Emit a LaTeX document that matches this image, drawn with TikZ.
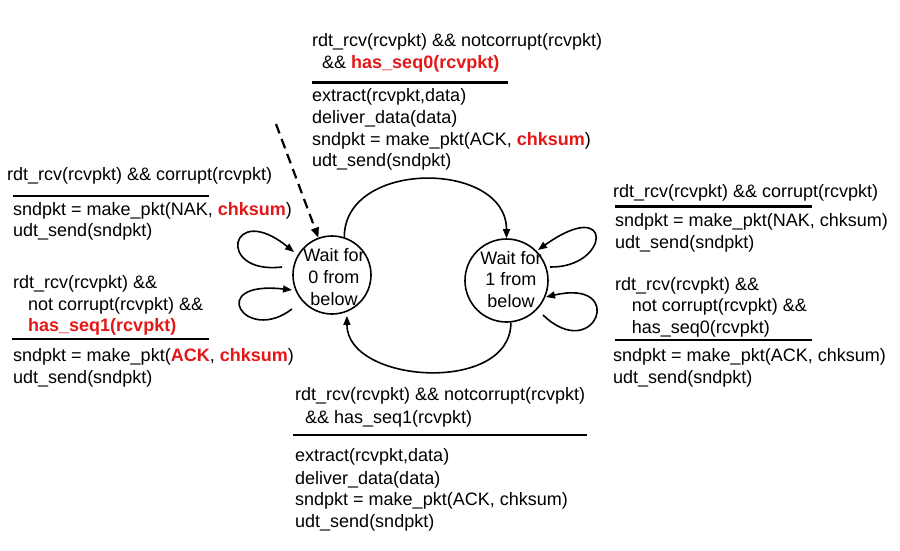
\documentclass[tikz,border=0pt]{standalone}
\usepackage{fontspec}
\setmainfont{Liberation Sans}
\usetikzlibrary{arrows.meta}
\definecolor{hl}{RGB}{228,24,24}
\newcommand\hlt[1]{\textcolor{hl}{\textbf{#1}}}
\begin{document}
\begin{tikzpicture}[x=1pt,y=-1pt,
  txt/.style={anchor=base west,inner sep=0pt,font=\fontsize{18}{21.7}\selectfont},
  rulel/.style={line width=2.6pt},
  stnode/.style={circle,draw,line width=1.6pt,inner sep=0pt},
  stxt/.style={align=center,inner sep=0pt,font=\fontsize{18}{21.7}\selectfont},
  conn/.style={line width=1.6pt,-{Triangle[length=9pt,width=7pt]}},
  dconn/.style={line width=2.2pt,dash pattern=on 10pt off 6pt,-{Triangle[length=10pt,width=8pt]}}
]
\useasboundingbox[fill=white] (0,0) rectangle (900,551);

% states
\node[stnode,minimum size=78pt] (s0) at (332,275) {};
\node[stnode,minimum size=83pt] (s1) at (506.5,280.5) {};
\node[stxt] (s0t) at (334,277) {Wait for\\0 from\\below};
\node[stxt] (s1t) at (511,279.5) {Wait for\\1 from\\below};

% top block
\node[txt] (tA1) at (312,47) {rdt\_rcv(rcvpkt) \&\& notcorrupt(rcvpkt)};
\node[txt] (tA2) at (322,69) {\&\& \hlt{has\_seq0(rcvpkt)}};
\draw[rulel] (312,82.7) -- (508,82.7);
\node[txt] (tA3) at (312,101.5) {extract(rcvpkt,data)};
\node[txt] (tA4) at (312,123) {deliver\_data(data)};
\node[txt] (tA5) at (312,145) {sndpkt = make\_pkt(ACK, \hlt{chksum})};
\node[txt] (tA6) at (312,166.5) {udt\_send(sndpkt)};

% left blocks
\node[txt] (L1) at (7,180.5) {rdt\_rcv(rcvpkt) \&\& corrupt(rcvpkt)};
\draw[rulel] (12.7,196) -- (209,196);
\node[txt] (L2) at (13,215) {sndpkt = make\_pkt(NAK, \hlt{chksum})};
\node[txt] (L3) at (13,236.5) {udt\_send(sndpkt)};
\node[txt] (L4) at (13,288.3) {rdt\_rcv(rcvpkt) \&\&};
\node[txt] (L5) at (28,310) {not corrupt(rcvpkt) \&\&};
\node[txt] (L6) at (28,331.7) {\hlt{has\_seq1(rcvpkt)}};
\draw[rulel] (12,339) -- (209,339);
\node[txt] (L7) at (13,361.5) {sndpkt = make\_pkt(\hlt{ACK}, \hlt{chksum})};
\node[txt] (L8) at (13,383) {udt\_send(sndpkt)};

% right blocks
\node[txt] (R1) at (613,197.7) {rdt\_rcv(rcvpkt) \&\& corrupt(rcvpkt)};
\draw[rulel] (615,206.7) -- (812,206.7);
\node[txt] (R2) at (615,226.7) {sndpkt = make\_pkt(NAK, chksum)};
\node[txt] (R3) at (615,248.3) {udt\_send(sndpkt)};
\node[txt] (R4) at (615,290) {rdt\_rcv(rcvpkt) \&\&};
\node[txt] (R5) at (631.7,311.7) {not corrupt(rcvpkt) \&\&};
\node[txt] (R6) at (631.7,333.3) {has\_seq0(rcvpkt)};
\draw[rulel] (615,340) -- (812,340);
\node[txt] (R7) at (613,361.7) {sndpkt = make\_pkt(ACK, chksum)};
\node[txt] (R8) at (613,383.3) {udt\_send(sndpkt)};

% bottom block
\node[txt] (B1) at (295,400) {rdt\_rcv(rcvpkt) \&\& notcorrupt(rcvpkt)};
\node[txt] (B2) at (305,423) {\&\& has\_seq1(rcvpkt)};
\draw[rulel] (293,435) -- (587,435);
\node[txt] (B3) at (295,461.7) {extract(rcvpkt,data)};
\node[txt] (B4) at (295,484) {deliver\_data(data)};
\node[txt] (B5) at (295,505.7) {sndpkt = make\_pkt(ACK, chksum)};
\node[txt] (B6) at (295,527.7) {udt\_send(sndpkt)};

% transitions between states
\draw[conn] (s0.72) .. controls +(0,-78) and +(0,-78) .. (s1.north);
\draw[conn,shorten >=4pt] (s1.-84) .. controls +(0,72) and +(0,72) .. (s0.-68);

% initial dashed arrow
\coordinate (init) at (276,124);
\draw[dconn] (init) -- (s0.110);

% self loops
\coordinate (cL1t) at (282,267);
\coordinate (cL1h) at (294,252);
\coordinate (cL2t) at (292,309);
\coordinate (cL2h) at (292,290);
\coordinate (cR1t) at (550,267);
\coordinate (cR1h) at (538,250);
\coordinate (cR2t) at (543,315);
\coordinate (cR2h) at (546,297);
\draw[conn] (cL1t) .. controls (215,275) and (230,200) .. (cL1h);
\draw[conn] (cL2t) .. controls (245,345) and (205,280) .. (cL2h);
\draw[conn] (cR1t) .. controls (610,268) and (615,195) .. (cR1h);
\draw[conn] (cR2t) .. controls (595,365) and (628,278) .. (cR2h);
\end{tikzpicture}
\end{document}
